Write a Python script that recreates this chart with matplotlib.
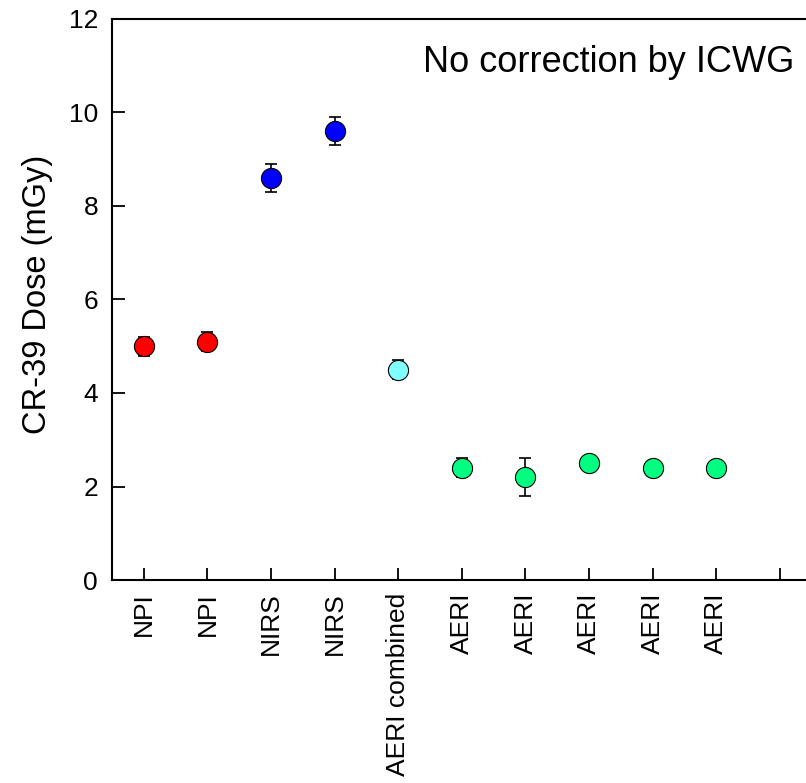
import matplotlib
matplotlib.use("Agg")
import matplotlib.pyplot as plt

plt.rcParams.update({
    "font.family": ["Liberation Sans", "DejaVu Sans"],
})

# data
labels = ["NPI", "NPI", "NIRS", "NIRS", "AERI combined",
          "AERI", "AERI", "AERI", "AERI", "AERI"]
dose = [5.0, 5.1, 8.6, 9.6, 4.5, 2.4, 2.2, 2.5, 2.4, 2.4]
err = [0.2, 0.2, 0.3, 0.3, 0.2, 0.2, 0.4, 0.0, 0.0, 0.0]
colours = ["#FF0000", "#FF0000", "#0000FF", "#0000FF", "#80FFFF",
           "#00FF80", "#00FF80", "#00FF80", "#00FF80", "#00FF80"]

fig = plt.figure(figsize=(8.06, 7.83), dpi=100)
ax = fig.add_axes([112 / 806, 1 - 580 / 783, 1 - 112 / 806, (580 - 19) / 783])

xs = list(range(1, len(dose) + 1))
for x, y, e, c in zip(xs, dose, err, colours):
    if e > 0:
        ax.errorbar(x, y, yerr=e, fmt="none", ecolor="black", elinewidth=1.2,
                    capsize=4, capthick=1.2, zorder=2)
    ax.plot(x, y, "o", ms=14.5, mfc=c, mec="black", mew=0.8, zorder=3)

ax.set_xlim(0.5, 11.41)
ax.set_ylim(0, 12)
ax.set_xticks(xs + [11])
ax.set_xticklabels(labels + [""], rotation=90, fontsize=19)
ax.set_yticks(range(0, 13, 2))
ax.tick_params(axis="y", direction="in", length=9, width=1.3, labelsize=19, pad=10)
ax.tick_params(axis="x", direction="in", length=9, width=1.3, pad=9)
ax.spines["right"].set_visible(False)
for s in ("left", "bottom", "top"):
    ax.spines[s].set_linewidth(1.5)

ax.set_ylabel("CR-39 Dose (mGy)", fontsize=23.5)
ax.yaxis.set_label_coords(-0.085, 0.51)

ax.text(0.983, 0.9055, "No correction by ICWG", transform=ax.transAxes,
        ha="right", va="baseline", fontsize=26)

fig.savefig("out.png", dpi=100)
